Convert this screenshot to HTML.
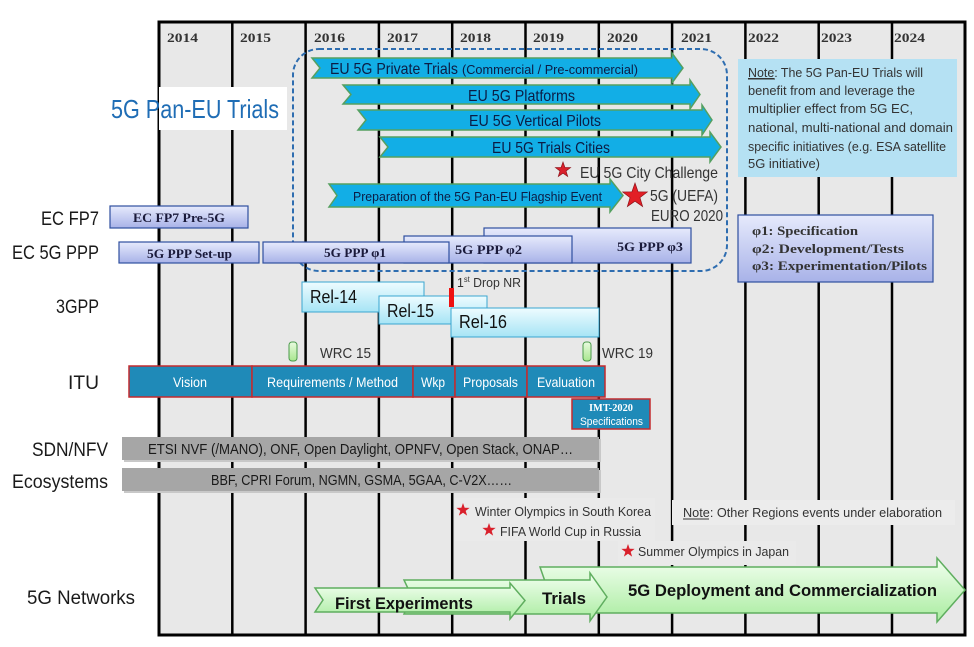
<!DOCTYPE html>
<html><head><meta charset="utf-8"><style>
html,body{margin:0;padding:0;background:#fff;}
svg{display:block;}
text{font-family:"Liberation Sans",sans-serif;}
.sf{font-family:"Liberation Serif",serif;font-weight:bold;}
</style></head><body>
<svg width="974" height="647" viewBox="0 0 974 647" xmlns="http://www.w3.org/2000/svg">
<defs>
<linearGradient id="ppp" x1="0" y1="0" x2="0" y2="1"><stop offset="0" stop-color="#e6eafc"/><stop offset="1" stop-color="#a8b2e8"/></linearGradient>
<linearGradient id="rel" x1="0" y1="0" x2="0" y2="1"><stop offset="0" stop-color="#eefcff"/><stop offset="1" stop-color="#a6e4f5"/></linearGradient>
<linearGradient id="grn" x1="0" y1="0" x2="0" y2="1"><stop offset="0" stop-color="#f2fff0"/><stop offset="1" stop-color="#a9ec9f"/></linearGradient>
<linearGradient id="wrc" x1="0" y1="0" x2="0" y2="1"><stop offset="0" stop-color="#e9fbe0"/><stop offset="1" stop-color="#a8e68e"/></linearGradient>
<path id="star" d="M0,-1 L0.235,-0.324 L0.951,-0.309 L0.380,0.124 L0.588,0.809 L0,0.4 L-0.588,0.809 L-0.380,0.124 L-0.951,-0.309 L-0.235,-0.324Z"/>
</defs>

<!-- grid -->
<rect x="159" y="22" width="806" height="613" fill="#e8e8e8"/>
<g stroke="#000" stroke-width="2.5">
<line x1="232.3" y1="22" x2="232.3" y2="635"/>
<line x1="305.6" y1="22" x2="305.6" y2="635"/>
<line x1="378.9" y1="22" x2="378.9" y2="635"/>
<line x1="452.2" y1="22" x2="452.2" y2="635"/>
<line x1="525.5" y1="22" x2="525.5" y2="635"/>
<line x1="598.8" y1="22" x2="598.8" y2="635"/>
<line x1="672.1" y1="22" x2="672.1" y2="635"/>
<line x1="745.4" y1="22" x2="745.4" y2="635"/>
<line x1="818.7" y1="22" x2="818.7" y2="635"/>
<line x1="892" y1="22" x2="892" y2="635"/>
</g>
<rect x="159" y="22" width="806" height="613" fill="none" stroke="#000" stroke-width="3"/>

<!-- years -->
<g class="sf" font-size="13" fill="#333">
<text class="sf" x="167" y="42" textLength="31" lengthAdjust="spacingAndGlyphs">2014</text>
<text class="sf" x="240" y="42" textLength="31" lengthAdjust="spacingAndGlyphs">2015</text>
<text class="sf" x="314" y="42" textLength="31" lengthAdjust="spacingAndGlyphs">2016</text>
<text class="sf" x="387" y="42" textLength="31" lengthAdjust="spacingAndGlyphs">2017</text>
<text class="sf" x="460" y="42" textLength="31" lengthAdjust="spacingAndGlyphs">2018</text>
<text class="sf" x="533" y="42" textLength="31" lengthAdjust="spacingAndGlyphs">2019</text>
<text class="sf" x="607" y="42" textLength="31" lengthAdjust="spacingAndGlyphs">2020</text>
<text class="sf" x="681" y="42" textLength="31" lengthAdjust="spacingAndGlyphs">2021</text>
<text class="sf" x="748" y="42" textLength="31" lengthAdjust="spacingAndGlyphs">2022</text>
<text class="sf" x="821" y="42" textLength="31" lengthAdjust="spacingAndGlyphs">2023</text>
<text class="sf" x="894" y="42" textLength="31" lengthAdjust="spacingAndGlyphs">2024</text>
</g>

<!-- title -->
<rect x="159" y="87" width="128" height="43" fill="#fff"/>
<text x="111" y="118" font-size="26" fill="#1f6db5" textLength="168" lengthAdjust="spacingAndGlyphs">5G Pan-EU Trials</text>

<!-- note box -->
<rect x="738" y="59" width="219" height="118" fill="#b5e1f3"/>
<g font-size="13" fill="#333">
<text x="748" y="77" textLength="175" lengthAdjust="spacingAndGlyphs"><tspan text-decoration="underline">Note</tspan>: The 5G Pan-EU Trials will</text>
<line x1="748" y1="79" x2="775" y2="79" stroke="#333" stroke-width="1"/>
<text x="748" y="95" textLength="167" lengthAdjust="spacingAndGlyphs">benefit from and leverage the</text>
<text x="748" y="113" textLength="165" lengthAdjust="spacingAndGlyphs">multiplier effect from 5G EC,</text>
<text x="748" y="132" textLength="205" lengthAdjust="spacingAndGlyphs">national, multi-national and domain</text>
<text x="748" y="151" textLength="198" lengthAdjust="spacingAndGlyphs">specific initiatives (e.g. ESA satellite</text>
<text x="748" y="168" textLength="72" lengthAdjust="spacingAndGlyphs">5G initiative)</text>
</g>

<!-- dashed region -->
<rect x="293" y="49" width="434" height="222" rx="26" ry="26" fill="none" stroke="#2e6db0" stroke-width="2" stroke-dasharray="5,3"/>

<!-- blue arrows -->
<g fill="#12aee6" stroke="#55a060" stroke-width="1.5">
<polygon points="312,58 672,58 672,53 683,68 672,83 672,78 312,78 320,68"/>
<polygon points="343,85 690,85 690,80 700,94.5 690,109 690,104 343,104 351,94.5"/>
<polygon points="358,110 702,110 702,105 712,120 702,135 702,130 358,130 366,120"/>
<polygon points="380,137 710,137 710,132 721,147 710,162 710,157 380,157 388,147"/>
<polygon points="329,184 610,184 610,179 623,195.5 610,212 610,207 329,207 337,195.5"/>
</g>
<g fill="#0b1d45">
<text x="330" y="74" font-size="16" textLength="128" lengthAdjust="spacingAndGlyphs">EU 5G Private Trials</text>
<text x="462" y="74" font-size="13" textLength="176" lengthAdjust="spacingAndGlyphs">(Commercial / Pre-commercial)</text>
<text x="468" y="101" font-size="16" textLength="107" lengthAdjust="spacingAndGlyphs">EU 5G Platforms</text>
<text x="469" y="126" font-size="16" textLength="132" lengthAdjust="spacingAndGlyphs">EU 5G Vertical Pilots</text>
<text x="492" y="153" font-size="16" textLength="118" lengthAdjust="spacingAndGlyphs">EU 5G Trials Cities</text>
<text x="353" y="201" font-size="13" textLength="249" lengthAdjust="spacingAndGlyphs">Preparation of the 5G Pan-EU Flagship Event</text>
</g>

<!-- stars top -->
<use href="#star" transform="translate(563,170) scale(8)" fill="#d9202b" stroke="#8a1018" stroke-width="0.08"/>
<use href="#star" transform="translate(635,196) scale(13)" fill="#e21f26" stroke="#8a1018" stroke-width="0.05"/>
<g fill="#333" font-size="16">
<text x="580" y="178" textLength="138" lengthAdjust="spacingAndGlyphs">EU 5G City Challenge</text>
<text x="650" y="201" textLength="68" lengthAdjust="spacingAndGlyphs">5G (UEFA)</text>
<text x="651" y="221" textLength="72" lengthAdjust="spacingAndGlyphs">EURO 2020</text>
</g>

<!-- EC FP7 -->
<rect x="110" y="206" width="138" height="22" fill="url(#ppp)" stroke="#2f4f9f" stroke-width="1.2"/>
<text class="sf" x="133" y="222" font-size="13" fill="#1a1a3a" textLength="92" lengthAdjust="spacingAndGlyphs">EC FP7 Pre-5G</text>

<!-- 5G PPP -->
<rect x="484" y="228" width="207" height="35" fill="url(#ppp)" stroke="#2f4f9f" stroke-width="1.2"/>
<rect x="404" y="236" width="168" height="27" fill="url(#ppp)" stroke="#2f4f9f" stroke-width="1.2"/>
<rect x="263" y="242" width="186" height="21" fill="url(#ppp)" stroke="#2f4f9f" stroke-width="1.2"/>
<rect x="119" y="242" width="140" height="21" fill="url(#ppp)" stroke="#2f4f9f" stroke-width="1.2"/>
<g font-size="13" fill="#1a1a3a">
<text class="sf" x="147" y="258" textLength="85" lengthAdjust="spacingAndGlyphs">5G PPP Set-up</text>
<text class="sf" x="324" y="257" textLength="62" lengthAdjust="spacingAndGlyphs">5G PPP φ1</text>
<text class="sf" x="455" y="254" textLength="67" lengthAdjust="spacingAndGlyphs">5G PPP φ2</text>
<text class="sf" x="617" y="251" textLength="66" lengthAdjust="spacingAndGlyphs">5G PPP φ3</text>
</g>

<!-- legend -->
<rect x="738" y="215" width="195" height="67" fill="url(#ppp)" stroke="#2f4f9f" stroke-width="1.2"/>
<g font-size="13" fill="#333">
<text class="sf" x="752" y="235" textLength="106" lengthAdjust="spacingAndGlyphs">φ1: Specification</text>
<text class="sf" x="752" y="253" textLength="152" lengthAdjust="spacingAndGlyphs">φ2: Development/Tests</text>
<text class="sf" x="752" y="270" textLength="175" lengthAdjust="spacingAndGlyphs">φ3: Experimentation/Pilots</text>
</g>

<!-- 3GPP -->
<rect x="302" y="282" width="122" height="30" fill="url(#rel)" stroke="#3aa6d0" stroke-width="1"/>
<rect x="379" y="296" width="108" height="28" fill="url(#rel)" stroke="#3aa6d0" stroke-width="1"/>
<rect x="451" y="308" width="148" height="29" fill="url(#rel)" stroke="#3aa6d0" stroke-width="1"/>
<rect x="449" y="288" width="5" height="19" fill="#ee1111"/>
<g font-size="18" fill="#111">
<text x="310" y="303" textLength="47" lengthAdjust="spacingAndGlyphs">Rel-14</text>
<text x="387" y="317" textLength="47" lengthAdjust="spacingAndGlyphs">Rel-15</text>
<text x="459" y="328" textLength="48" lengthAdjust="spacingAndGlyphs">Rel-16</text>
</g>
<text x="457" y="287" font-size="13" fill="#333" textLength="64" lengthAdjust="spacingAndGlyphs">1<tspan font-size="8" dy="-5">st</tspan><tspan dy="5"> Drop NR</tspan></text>

<!-- WRC -->
<rect x="289" y="342" width="8" height="19" rx="3" fill="url(#wrc)" stroke="#4a9a4a" stroke-width="1"/>
<rect x="583" y="342" width="8" height="19" rx="3" fill="url(#wrc)" stroke="#4a9a4a" stroke-width="1"/>
<g font-size="15" fill="#333">
<text x="320" y="358" textLength="51" lengthAdjust="spacingAndGlyphs">WRC 15</text>
<text x="602" y="358" textLength="51" lengthAdjust="spacingAndGlyphs">WRC 19</text>
</g>

<!-- ITU -->
<g fill="#1f8ab8" stroke="#c42a2e" stroke-width="1.5">
<rect x="129" y="366" width="123" height="31"/>
<rect x="252" y="366" width="161" height="31"/>
<rect x="413" y="366" width="42" height="31"/>
<rect x="455" y="366" width="72" height="31"/>
<rect x="527" y="366" width="78" height="31"/>
<rect x="572" y="399" width="78" height="30"/>
</g>
<g font-size="14" fill="#fff">
<text x="173" y="387" textLength="34" lengthAdjust="spacingAndGlyphs">Vision</text>
<text x="267" y="387" textLength="131" lengthAdjust="spacingAndGlyphs">Requirements / Method</text>
<text x="421" y="387" textLength="24" lengthAdjust="spacingAndGlyphs">Wkp</text>
<text x="463" y="387" textLength="55" lengthAdjust="spacingAndGlyphs">Proposals</text>
<text x="537" y="387" textLength="58" lengthAdjust="spacingAndGlyphs">Evaluation</text>
<text class="sf" x="589" y="411" font-size="11" textLength="44" lengthAdjust="spacingAndGlyphs">IMT-2020</text>
<text x="580" y="425" font-size="11" textLength="63" lengthAdjust="spacingAndGlyphs">Specifications</text>
</g>

<!-- SDN / Eco -->
<rect x="124" y="439" width="477" height="23" fill="#c8c8c8"/>
<rect x="122" y="437" width="477" height="23" fill="#a6a6a6"/>
<rect x="124" y="470" width="477" height="23" fill="#c8c8c8"/>
<rect x="122" y="468" width="477" height="23" fill="#a6a6a6"/>
<g font-size="15" fill="#1a1a1a">
<text x="148" y="454" textLength="425" lengthAdjust="spacingAndGlyphs">ETSI NVF (/MANO), ONF, Open Daylight, OPNFV, Open Stack, ONAP…</text>
<text x="211" y="485" textLength="301" lengthAdjust="spacingAndGlyphs">BBF, CPRI Forum, NGMN, GSMA, 5GAA, C-V2X……</text>
</g>

<!-- events -->
<rect x="455" y="498" width="200" height="43" fill="#eaeaea"/>
<rect x="618" y="541" width="178" height="24" fill="#eaeaea"/>
<rect x="672" y="500" width="283" height="25" fill="#ececec"/>
<use href="#star" transform="translate(463,510) scale(7)" fill="#d9202b"/>
<use href="#star" transform="translate(489,530) scale(7)" fill="#d9202b"/>
<use href="#star" transform="translate(628,551) scale(7)" fill="#d9202b"/>
<g font-size="13" fill="#333">
<text x="475" y="516" textLength="176" lengthAdjust="spacingAndGlyphs">Winter Olympics in South Korea</text>
<text x="500" y="536" textLength="141" lengthAdjust="spacingAndGlyphs">FIFA World Cup in Russia</text>
<text x="638" y="556" textLength="151" lengthAdjust="spacingAndGlyphs">Summer Olympics in Japan</text>
<text x="683" y="517" textLength="259" lengthAdjust="spacingAndGlyphs">Note: Other Regions events under elaboration</text>
<line x1="683" y1="519" x2="709" y2="519" stroke="#333" stroke-width="1"/>
</g>

<!-- green arrows -->
<g fill="url(#grn)" stroke="#5fae5f" stroke-width="1.5">
<polygon points="540,567 937,567 937,558 965,590 937,622 937,613 540,613 548,590"/>
<polygon points="404,580 590,580 590,573 607,597 590,621 590,614 404,614 412,597"/>
<polygon points="315,588 510,588 510,583 525,600.5 510,619 510,612 315,612 323,600"/>
</g>
<g font-size="17" fill="#111" font-weight="bold">
<text x="335" y="609" textLength="138" lengthAdjust="spacingAndGlyphs">First Experiments</text>
<text x="542" y="604" textLength="44" lengthAdjust="spacingAndGlyphs">Trials</text>
<text x="628" y="596" textLength="309" lengthAdjust="spacingAndGlyphs">5G Deployment and Commercialization</text>
</g>

<!-- row labels -->
<g font-size="19" fill="#1a1a1a">
<text x="41" y="225" textLength="58" lengthAdjust="spacingAndGlyphs">EC FP7</text>
<text x="12" y="259" textLength="87" lengthAdjust="spacingAndGlyphs">EC 5G PPP</text>
<text x="56" y="313" textLength="43" lengthAdjust="spacingAndGlyphs">3GPP</text>
<text x="68" y="389" textLength="31" lengthAdjust="spacingAndGlyphs">ITU</text>
<text x="32" y="456" textLength="76" lengthAdjust="spacingAndGlyphs">SDN/NFV</text>
<text x="12" y="488" textLength="96" lengthAdjust="spacingAndGlyphs">Ecosystems</text>
<text x="27" y="604" textLength="108" lengthAdjust="spacingAndGlyphs">5G Networks</text>
</g>
</svg>
</body></html>
